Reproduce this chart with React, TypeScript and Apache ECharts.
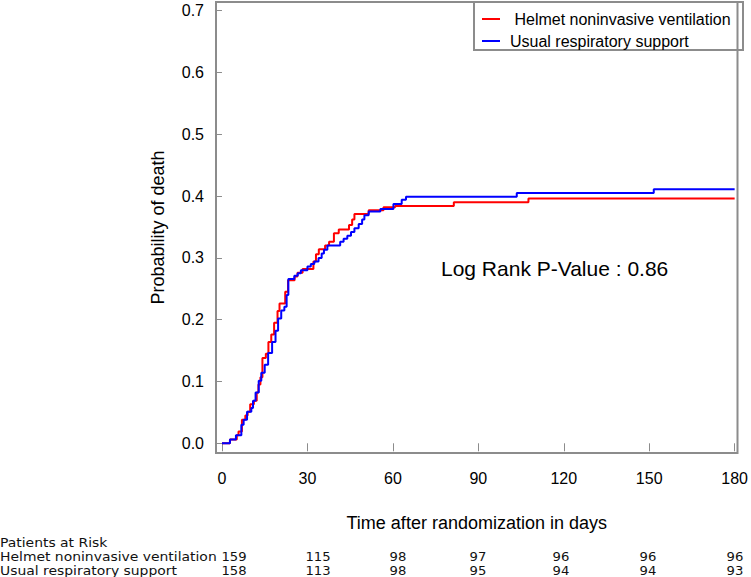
import React, { useEffect, useRef } from "react";
import * as echarts from "echarts";

// Kaplan-Meier style cumulative probability of death (step points: day, probability)
const helmetDays = [0, 2.8, 5.2, 5.8, 7.0, 8.2, 9.0, 9.9, 11.2, 12.2, 12.8, 13.5, 14.2, 15.4, 16.3, 17.3, 18.3, 19.5, 20.2, 22.2, 23.2, 25.5, 26.5, 28.3, 32.1, 33.0, 34.0, 36.2, 37.6, 39.3, 41.0, 44.6, 45.7, 46.5, 51.5, 56.7, 60.8, 81.4, 107.6, 180];
const helmetProb = [0, 0.006, 0.013, 0.019, 0.038, 0.045, 0.051, 0.063, 0.069, 0.082, 0.095, 0.107, 0.138, 0.145, 0.164, 0.176, 0.195, 0.214, 0.226, 0.245, 0.264, 0.270, 0.276, 0.282, 0.294, 0.306, 0.314, 0.320, 0.326, 0.340, 0.346, 0.353, 0.362, 0.371, 0.377, 0.382, 0.384, 0.390, 0.396, 0.396];

const usualDays = [0, 2.8, 4.9, 6.8, 7.6, 8.8, 10.3, 10.9, 11.8, 12.9, 13.8, 15.0, 16.2, 17.6, 18.8, 19.7, 20.8, 21.9, 22.7, 23.3, 25.4, 26.6, 27.7, 30.0, 31.2, 32.4, 33.9, 35.0, 35.8, 37.0, 41.5, 42.7, 44.0, 45.3, 46.5, 48.0, 49.2, 50.0, 51.5, 55.6, 60.2, 63.1, 64.6, 103.5, 151.6, 180];
const usualProb = [0, 0.006, 0.013, 0.030, 0.038, 0.051, 0.057, 0.069, 0.082, 0.101, 0.114, 0.127, 0.146, 0.164, 0.182, 0.202, 0.215, 0.221, 0.240, 0.266, 0.271, 0.275, 0.280, 0.286, 0.290, 0.294, 0.300, 0.307, 0.313, 0.320, 0.326, 0.331, 0.336, 0.342, 0.348, 0.355, 0.362, 0.369, 0.375, 0.379, 0.387, 0.394, 0.399, 0.405, 0.411, 0.411];

const xTickValues = [0, 30, 60, 90, 120, 150, 180];
const yTickValues = [0, 0.1, 0.2, 0.3, 0.4, 0.5, 0.6, 0.7];

const seriesNames = ["Helmet noninvasive ventilation", "Usual respiratory support"];
const riskTitle = "Patients at Risk";
const helmetAtRisk = [159, 115, 98, 97, 96, 96, 96];
const usualAtRisk = [158, 113, 98, 95, 94, 94, 93];
const pValueText = "Log Rank P-Value : 0.86";

// layout (pixel positions of the at-risk table columns)
const riskColX = [234, 318, 398, 478, 561, 648, 735];

export default function App() {
  const ref = useRef<HTMLDivElement>(null);
  useEffect(() => {
    if (!ref.current) return;
    const chart = echarts.init(ref.current, undefined, { renderer: "svg" });
    const sansFont = "'Liberation Sans', Arial, sans-serif";
    const tableFont = "'DejaVu Sans', sans-serif";
    const gray = "#8c8c8c";
    const toPairs = (xs: number[], ys: number[]) => xs.map((x, i) => [x, ys[i]]);

    const rowY = [543, 557, 571];
    const tableTexts: any[] = [];
    [riskTitle, seriesNames[0], seriesNames[1]].forEach((t, i) => {
      tableTexts.push({
        type: "text", x: 0, y: rowY[i], scaleX: 1.16,
        style: { text: t, font: `12px ${tableFont}`, fill: "#111", verticalAlign: "middle" },
      });
    });
    riskColX.forEach((cx, i) => {
      tableTexts.push({
        type: "text", x: cx, y: rowY[1], scaleX: 1.1,
        style: { text: String(helmetAtRisk[i]), font: `12px ${tableFont}`, fill: "#111", align: "center", verticalAlign: "middle" },
      });
      tableTexts.push({
        type: "text", x: cx, y: rowY[2], scaleX: 1.1,
        style: { text: String(usualAtRisk[i]), font: `12px ${tableFont}`, fill: "#111", align: "center", verticalAlign: "middle" },
      });
    });

    chart.setOption({
      animation: false,
      backgroundColor: "#fff",
      grid: {
        left: 216, top: 2, right: 9, bottom: 124,
        show: true, borderColor: gray, borderWidth: 2, backgroundColor: "transparent",
      },
      legend: {
        orient: "vertical",
        left: 482, top: 9, padding: 0,
        itemWidth: 18, itemHeight: 2, itemGap: 2,
        icon: "rect",
        data: seriesNames,
        formatter: (n: string) => (n === seriesNames[0] ? "\u00a0" + n : n),
        textStyle: { fontFamily: sansFont, fontSize: 16, color: "#000", lineHeight: 20, padding: [0, 0, 0, 5] },
      },
      xAxis: {
        type: "value",
        min: -2.1, max: 181,
        name: "Time after randomization in days",
        nameLocation: "middle",
        nameGap: 61,
        nameTextStyle: { fontFamily: sansFont, fontSize: 18, color: "#000" },
        axisLine: { show: false },
        splitLine: { show: false },
        axisTick: { show: true, length: 8, customValues: xTickValues, lineStyle: { color: gray, width: 1 } },
        axisLabel: { customValues: xTickValues, margin: 17, fontFamily: sansFont, fontSize: 16, color: "#000" },
      },
      yAxis: {
        type: "value",
        min: -0.0157, max: 0.714,
        name: "Probability of death",
        nameLocation: "middle",
        nameGap: 49,
        nameRotate: 90,
        nameTextStyle: { fontFamily: sansFont, fontSize: 18, color: "#000" },
        axisLine: { show: false },
        splitLine: { show: false },
        axisTick: { show: true, length: 7, customValues: yTickValues, lineStyle: { color: gray, width: 1 } },
        axisLabel: {
          customValues: yTickValues, margin: 12, fontFamily: sansFont, fontSize: 16, color: "#000",
          formatter: (v: number) => v.toFixed(1),
        },
      },
      series: [
        {
          name: seriesNames[0], type: "line", step: "end", showSymbol: false,
          data: toPairs(helmetDays, helmetProb),
          lineStyle: { color: "#ff0000", width: 2 }, itemStyle: { color: "#ff0000" },
        },
        {
          name: seriesNames[1], type: "line", step: "end", showSymbol: false,
          data: toPairs(usualDays, usualProb),
          lineStyle: { color: "#0000ff", width: 2 }, itemStyle: { color: "#0000ff" },
        },
      ],
      graphic: [
        {
          type: "rect", shape: { x: 474, y: 2, width: 269, height: 48 },
          style: { fill: "none", stroke: gray, lineWidth: 2 }, z: 1,
        },
        {
          type: "text", x: 441, y: 268,
          style: { text: pValueText, font: `21px ${sansFont}`, fill: "#000", verticalAlign: "middle" },
        },
        ...tableTexts,
      ],
    });
    return () => chart.dispose();
  }, []);
  return <div ref={ref} style={{ width: 751, height: 577, position: "absolute", left: 0, top: 0 }} />;
}
